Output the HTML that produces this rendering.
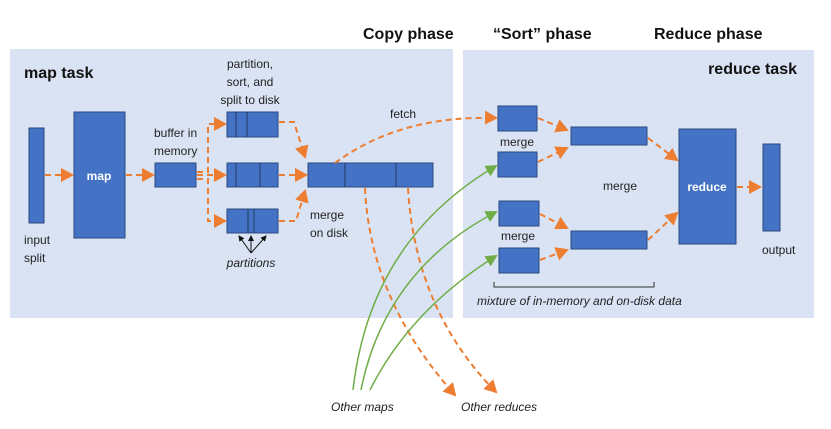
<!DOCTYPE html>
<html><head><meta charset="utf-8"><style>
html,body{margin:0;padding:0;background:#fff;width:831px;height:429px;overflow:hidden}
svg{display:block}
text{font-family:"Liberation Sans",sans-serif;fill:#222}
.c{font-size:12px}
.b{font-weight:bold;font-size:16px;fill:#111}
.i{font-style:italic;font-size:12px}
.bx{fill:#4472c4;stroke:#2a4a80;stroke-width:1}
.o{stroke:#ed7d31;stroke-width:2;stroke-dasharray:6,4;fill:none}
.g{stroke:#70ad47;stroke-width:1.5;fill:none}
.dv{stroke:#1f3864;stroke-width:1}
</style></head><body>
<svg width="831" height="429" viewBox="0 0 831 429">
<defs>
<marker id="a" markerWidth="13" markerHeight="14" refX="11" refY="7" orient="auto" markerUnits="userSpaceOnUse"><path d="M0,0 L13,7 L0,14 Z" fill="#ed7d31"/></marker>
<marker id="ga" markerWidth="12" markerHeight="12" refX="10" refY="6" orient="auto" markerUnits="userSpaceOnUse"><path d="M0,0 L12,6 L0,12 Z" fill="#70ad47"/></marker>
<marker id="k" markerWidth="6" markerHeight="6" refX="5" refY="3" orient="auto" markerUnits="userSpaceOnUse"><path d="M0,0 L6,3 L0,6 Z" fill="#111"/></marker>
</defs>
<rect x="10" y="49" width="443" height="269" fill="#dae3f3"/>
<rect x="463" y="50" width="351" height="268" fill="#dae3f3"/>
<text class="b" x="363" y="39">Copy phase</text>
<text class="b" x="493" y="39">“Sort” phase</text>
<text class="b" x="654" y="39">Reduce phase</text>
<text class="b" x="24" y="78">map task</text>
<text class="b" x="797" y="74" text-anchor="end">reduce task</text>

<rect class="bx" x="29" y="128" width="15" height="95"/>
<rect class="bx" x="74" y="112" width="51" height="126"/>
<text x="99" y="180" text-anchor="middle" style="fill:#fff;font-size:12px;font-weight:bold">map</text>
<rect class="bx" x="155" y="163" width="41" height="24"/>
<rect class="bx" x="227" y="112" width="51" height="25"/><line class="dv" x1="236" y1="112" x2="236" y2="137"/><line class="dv" x1="247" y1="112" x2="247" y2="137"/>
<rect class="bx" x="227" y="163" width="51" height="24"/><line class="dv" x1="236" y1="163" x2="236" y2="187"/><line class="dv" x1="260" y1="163" x2="260" y2="187"/>
<rect class="bx" x="227" y="209" width="51" height="24"/><line class="dv" x1="248" y1="209" x2="248" y2="233"/><line class="dv" x1="254" y1="209" x2="254" y2="233"/>
<rect class="bx" x="308" y="163" width="125" height="24"/><line class="dv" x1="345" y1="163" x2="345" y2="187"/><line class="dv" x1="396" y1="163" x2="396" y2="187"/>

<text class="c" x="250" y="68" text-anchor="middle">partition,</text>
<text class="c" x="250" y="86" text-anchor="middle">sort, and</text>
<text class="c" x="250" y="104" text-anchor="middle">split to disk</text>
<text class="c" x="154" y="137">buffer in</text>
<text class="c" x="154" y="155">memory</text>
<text class="c" x="24" y="244">input</text>
<text class="c" x="24" y="262">split</text>
<text class="c" x="310" y="219">merge</text>
<text class="c" x="310" y="237">on disk</text>
<text class="i" x="251" y="267" text-anchor="middle">partitions</text>
<text class="c" x="390" y="118">fetch</text>
<line x1="251" y1="253" x2="239" y2="236" stroke="#111" marker-end="url(#k)"/>
<line x1="251" y1="253" x2="251" y2="236" stroke="#111" marker-end="url(#k)"/>
<line x1="251" y1="253" x2="266" y2="236" stroke="#111" marker-end="url(#k)"/>

<path class="o" d="M45,175 L72,175" marker-end="url(#a)"/>
<path class="o" d="M126,175 L153,175" marker-end="url(#a)"/>
<path class="o" d="M197,172 L208,172 L208,124 L225,124" marker-end="url(#a)"/>
<path class="o" d="M197,175 L225,175" marker-end="url(#a)"/>
<path class="o" d="M197,179 L208,179 L208,221 L225,221" marker-end="url(#a)"/>
<path class="o" d="M279,122 L294,122 L305,157" marker-end="url(#a)"/>
<path class="o" d="M279,175 L306,175" marker-end="url(#a)"/>
<path class="o" d="M279,221 L296,221 L305,191" marker-end="url(#a)"/>
<path class="o" d="M335,163 Q400,115 496,118" marker-end="url(#a)"/>
<path class="o" d="M365,188 Q370,300 455,395" marker-end="url(#a)"/>
<path class="o" d="M408,188 Q415,310 496,392" marker-end="url(#a)"/>

<rect class="bx" x="498" y="106" width="39" height="25"/>
<rect class="bx" x="498" y="152" width="39" height="25"/>
<rect class="bx" x="499" y="201" width="40" height="25"/>
<rect class="bx" x="499" y="248" width="40" height="25"/>
<rect class="bx" x="571" y="127" width="76" height="18"/>
<rect class="bx" x="571" y="231" width="76" height="18"/>
<rect class="bx" x="679" y="129" width="57" height="115"/>
<text x="707" y="191" text-anchor="middle" style="fill:#fff;font-size:12px;font-weight:bold">reduce</text>
<rect class="bx" x="763" y="144" width="17" height="87"/>
<text class="c" x="517" y="146" text-anchor="middle">merge</text>
<text class="c" x="518" y="240" text-anchor="middle">merge</text>
<text class="c" x="620" y="190" text-anchor="middle">merge</text>
<text class="c" x="762" y="254">output</text>
<path d="M494,282 L494,287 L654,287 L654,282" stroke="#333" fill="none"/>
<text class="i" x="477" y="305">mixture of in-memory and on-disk data</text>

<path class="o" d="M538,118 L567,130" marker-end="url(#a)"/>
<path class="o" d="M538,162 L567,148" marker-end="url(#a)"/>
<path class="o" d="M540,214 L567,228" marker-end="url(#a)"/>
<path class="o" d="M540,260 L567,250" marker-end="url(#a)"/>
<path class="o" d="M648,138 L677,160" marker-end="url(#a)"/>
<path class="o" d="M648,240 L677,213" marker-end="url(#a)"/>
<path class="o" d="M737,187 L760,187" marker-end="url(#a)"/>

<path class="g" d="M353,390 Q370,240 496,166" marker-end="url(#ga)"/>
<path class="g" d="M361,390 Q385,270 496,212" marker-end="url(#ga)"/>
<path class="g" d="M370,390 Q410,310 496,256" marker-end="url(#ga)"/>

<text class="i" x="331" y="411">Other maps</text>
<text class="i" x="461" y="411">Other reduces</text>
</svg>
</body></html>
